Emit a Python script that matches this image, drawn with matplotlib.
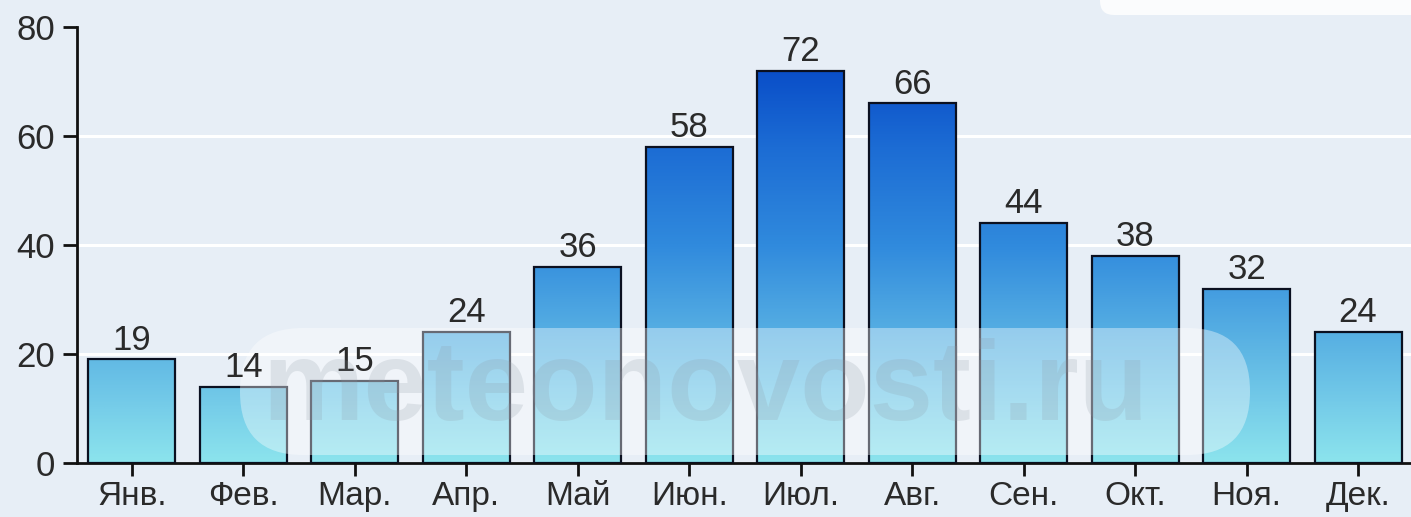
import numpy as np
import matplotlib
matplotlib.use("Agg")
import matplotlib.pyplot as plt
from matplotlib.colors import LinearSegmentedColormap
from matplotlib.patches import FancyBboxPatch
from matplotlib.transforms import IdentityTransform

months = ["Янв.", "Фев.", "Мар.", "Апр.", "Май", "Июн.", "Июл.", "Авг.", "Сен.", "Окт.", "Ноя.", "Дек."]
values = [19, 14, 15, 24, 36, 58, 72, 66, 44, 38, 32, 24]
yticks = [0, 20, 40, 60, 80]
watermark = "meteonovosti.ru"

W, H = 1411, 517
fig = plt.figure(figsize=(W / 100, H / 100), dpi=100)
fig.patch.set_facecolor("#e7eef6")
plt.rcParams['font.family'] = ['Liberation Sans', 'DejaVu Sans']

ax = fig.add_axes([77 / W, 54 / H, (W - 77) / W, (463 - 27) / H])
ax.set_facecolor("#e7eef6")
x = np.arange(len(values))
bw = 0.78
ax.set_xlim(-0.493, 11.475)
ax.set_ylim(0, 80)

# gridlines
for g in yticks[1:-1]:
    ax.axhline(g, color="white", lw=2.2, zorder=0.5)

cmap = LinearSegmentedColormap.from_list("rain", [
    (0.0, (140 / 255, 228 / 255, 237 / 255)),
    (10 / 75, (118 / 255, 205 / 255, 233 / 255)),
    (20 / 75, (95 / 255, 183 / 255, 228 / 255)),
    (40 / 75, (48 / 255, 138 / 255, 221 / 255)),
    (58 / 75, (28 / 255, 108 / 255, 212 / 255)),
    (1.0, (6 / 255, 72 / 255, 198 / 255)),
])

bars = ax.bar(x, values, width=bw, facecolor="none", edgecolor="#0b1020", lw=1.6, zorder=3)
grad = np.linspace(0, 80, 400).reshape(-1, 1)
for b, v in zip(bars, values):
    x0 = b.get_x()
    im = ax.imshow(grad, cmap=cmap, vmin=0, vmax=75, origin="lower", aspect="auto",
                   extent=[x0, x0 + bw, 0, 80], zorder=2, interpolation="bilinear")
    im.set_clip_path(b)

for xi, v in zip(x, values):
    ax.annotate(str(v), (xi, v), xytext=(0, 2), textcoords="offset points",
                ha="center", va="bottom", fontsize=25, color="#2a2a2a", zorder=6)

for s in ["top", "right"]:
    ax.spines[s].set_visible(False)
ax.spines["left"].set_linewidth(2)
ax.spines["bottom"].set_linewidth(2)
ax.spines["left"].set_color("#111")
ax.spines["bottom"].set_color("#111")
ax.set_xticks(x)
ax.set_xticklabels(months)
ax.set_yticks(yticks)
ax.tick_params(axis="x", length=9, width=2, pad=4, labelsize=24, colors="#111", labelcolor="#2a2a2a")
ax.tick_params(axis="y", length=10, width=2, pad=6, labelsize=25, colors="#111", labelcolor="#2a2a2a")

# watermark pill
pill = FancyBboxPatch((240, H - 455), 1010, 127, boxstyle="round,pad=0,rounding_size=63",
                      transform=IdentityTransform(), facecolor="white", edgecolor="none",
                      alpha=0.38, zorder=4, clip_on=False)
ax.add_artist(pill)
fig.text(705 / W, (H - 420) / H, watermark, ha="center", va="baseline", fontsize=82,
         fontweight="bold", color="#8b96a2", alpha=0.2, zorder=5)

# top-right logo box (partially outside)
logo = FancyBboxPatch((1100, H - 15), 340, 40, boxstyle="round,pad=0,rounding_size=14",
                      transform=IdentityTransform(), facecolor="#fbfcfd", edgecolor="none",
                      zorder=1, clip_on=False)
fig.add_artist(logo)

fig.savefig("out.png", dpi=100, facecolor=fig.get_facecolor())
